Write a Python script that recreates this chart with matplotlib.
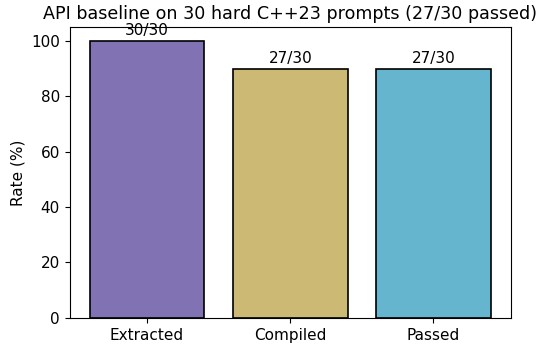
import matplotlib
matplotlib.use("Agg")
import matplotlib.pyplot as plt

stages = ["Extracted", "Compiled", "Passed"]
counts = [30, 27, 27]
total = 30
colors = ["#8172b3", "#ccb974", "#64b5cd"]

rates = [100.0 * c / total for c in counts]

fig, ax = plt.subplots(figsize=(5.4, 3.47), dpi=100)
fig.subplots_adjust(left=0.129, right=0.946, top=0.922, bottom=0.084)

x = range(len(stages))
bars = ax.bar(x, rates, 0.8, color=colors, edgecolor="black", linewidth=1.2)
for b, c in zip(bars, counts):
    ax.text(b.get_x() + b.get_width() / 2, b.get_height() + 1, f"{c}/{total}",
            ha="center", va="bottom", fontsize=11)

ax.set_xticks(list(x))
ax.set_xticklabels(stages, fontsize=11)
ax.tick_params(axis="y", labelsize=11)
ax.set_xlim(-0.54, 2.54)
ax.set_ylim(0, 105)
ax.set_ylabel("Rate (%)", fontsize=11)
ax.set_title(f"API baseline on {total} hard C++23 prompts ({counts[-1]}/{total} passed)", fontsize=12.6)

fig.savefig("out.png", dpi=100)
